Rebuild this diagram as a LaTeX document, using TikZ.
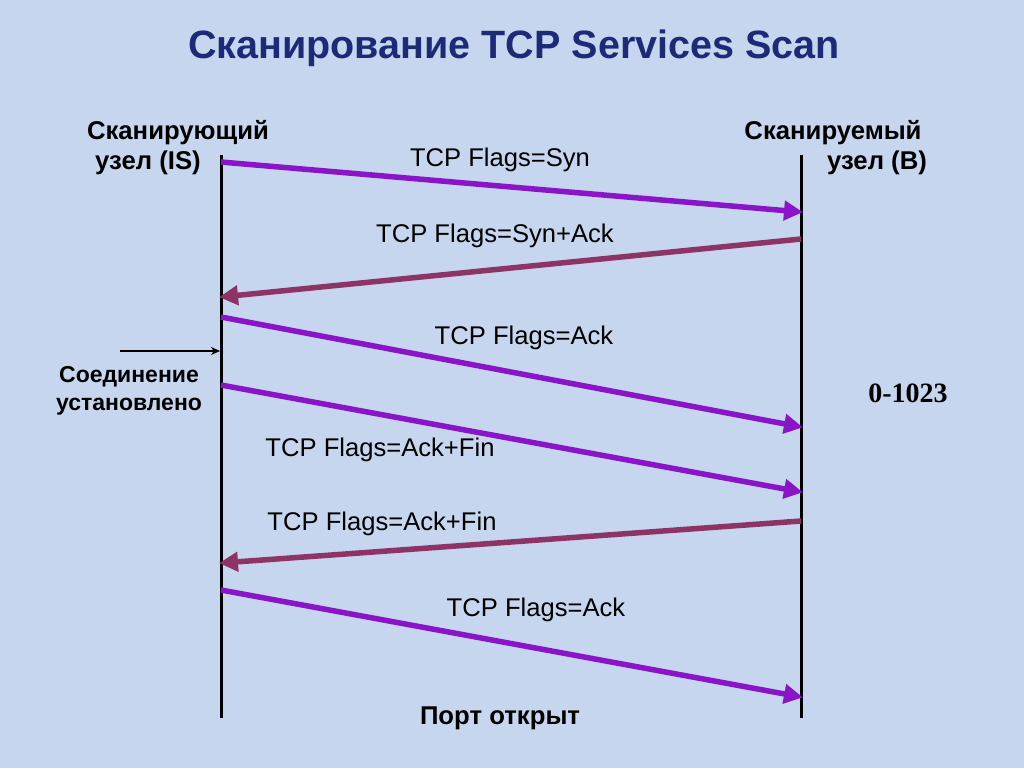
\documentclass[tikz,border=0pt]{standalone}
\usepackage{fontspec}
\setmainfont{Liberation Sans}
\newfontfamily\serifnum{Liberation Serif}
\usetikzlibrary{arrows.meta}
\definecolor{bgc}{HTML}{C6D6EE}
\definecolor{titlec}{HTML}{1C2A78}
\definecolor{purp}{HTML}{8A14C8}
\definecolor{maro}{HTML}{8E3366}
\tikzset{
  life/.style={line width=3pt,black},
  msgp/.style={line width=5.5pt,purp,-{Triangle[length=19pt,width=19pt]},shorten >=-2pt},
  msgm/.style={line width=5.5pt,maro,-{Triangle[length=19pt,width=19pt]},shorten >=-2pt},
  lbl/.style={font=\fontsize{25.6}{30}\selectfont,inner sep=0pt},
  blbl/.style={font=\fontsize{25.7}{30}\selectfont\bfseries,inner sep=0pt,align=center},
}
\begin{document}
\begin{tikzpicture}[x=1pt,y=-1pt]
\fill[bgc] (0,0) rectangle (1024,768);
\useasboundingbox (0,0) rectangle (1024,768);
\node[font=\fontsize{39.5}{44}\selectfont\bfseries,text=titlec,inner sep=0pt] (title) at (514,48) {Сканирование TCP Services Scan};
% lifelines
\coordinate (ltop) at (221,155); \coordinate (lbot) at (221,718);
\coordinate (rtop) at (801,155); \coordinate (rbot) at (801,718);
\draw[life] (ltop) -- (lbot);
\draw[life] (rtop) -- (rbot);
% headers
\node[blbl] (is1) at (178,133) {Сканирующий};
\node[blbl] (is2) at (148,163) {узел (IS)};
\node[blbl] (b1) at (833,133) {Сканируемый};
\node[blbl] (b2) at (877,163) {узел (B)};
% message points
\coordinate (a1) at (221,162); \coordinate (b1e) at (801,212);
\coordinate (a2) at (801,239); \coordinate (b2e) at (221,297);
\coordinate (a3) at (221,317); \coordinate (b3e) at (801,427);
\coordinate (a4) at (221,385); \coordinate (b4e) at (801,492);
\coordinate (a5) at (801,521); \coordinate (b5e) at (221,563);
\coordinate (a6) at (221,590); \coordinate (b6e) at (801,697);
\draw[msgp] (a1) -- (b1e);
\draw[msgm] (a2) -- (b2e);
\draw[msgp] (a3) -- (b3e);
\draw[msgp] (a4) -- (b4e);
\draw[msgm] (a5) -- (b5e);
\draw[msgp] (a6) -- (b6e);
\node[lbl] (l1) at (500,160) {TCP Flags=Syn};
\node[lbl] (l2) at (495,236) {TCP Flags=Syn+Ack};
\node[lbl] (l3) at (524,338) {TCP Flags=Ack};
\node[lbl] (l4) at (380,450) {TCP Flags=Ack+Fin};
\node[lbl] (l5) at (382,524) {TCP Flags=Ack+Fin};
\node[lbl] (l6) at (536,610) {TCP Flags=Ack};
% connection established
\coordinate (cs) at (120,351); \coordinate (ce) at (220,351);
\draw[line width=2pt,-{Stealth[length=9pt,width=8pt]}] (cs) -- (ce);
\node[font=\fontsize{23}{28}\selectfont\bfseries,inner sep=0pt,align=center] (conn) at (129,391) {Соединение\\установлено};
\node[font=\serifnum\fontsize{28}{30}\selectfont\bfseries,inner sep=0pt] (range) at (908,393) {0-1023};
\node[blbl] (open) at (500,718) {Порт открыт};
\end{tikzpicture}
\end{document}
